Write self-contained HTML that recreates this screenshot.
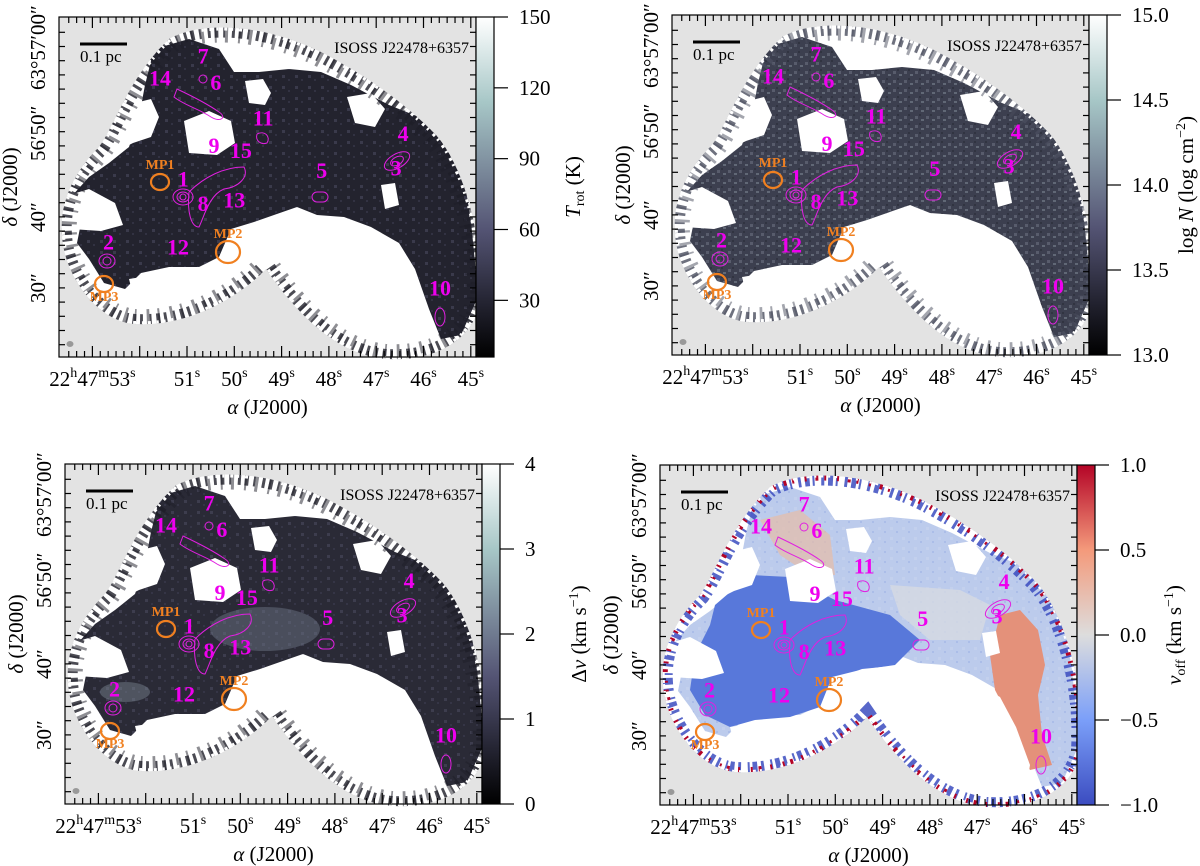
<!DOCTYPE html>
<html><head><meta charset="utf-8">
<style>
html,body{margin:0;padding:0;background:#fff;}
svg{display:block;font-family:"Liberation Serif","DejaVu Serif",serif;}
</style></head>
<body>
<svg id="fig" width="1200" height="866" viewBox="0 0 1200 866" xmlns="http://www.w3.org/2000/svg">
<defs>
<linearGradient id="bone" x1="0" y1="1" x2="0" y2="0">
<stop offset="0" stop-color="#000000"/><stop offset="0.375" stop-color="#545474"/><stop offset="0.75" stop-color="#a7c7c7"/><stop offset="1" stop-color="#ffffff"/>
</linearGradient>
<linearGradient id="coolwarm" x1="0" y1="1" x2="0" y2="0">
<stop offset="0" stop-color="#3b4cc0"/><stop offset="0.25" stop-color="#7b9ff9"/><stop offset="0.5" stop-color="#dddddd"/><stop offset="0.75" stop-color="#f49a7b"/><stop offset="1" stop-color="#b40426"/>
</linearGradient>
<pattern id="mottleDark" width="13" height="11" patternUnits="userSpaceOnUse">
<rect x="2" y="3" width="3" height="3" fill="#4a4a5e"/><rect x="8" y="7" width="2" height="2" fill="#3c3c50"/>
</pattern>
<pattern id="mottleN" width="11" height="9" patternUnits="userSpaceOnUse">
<rect x="1" y="2" width="3" height="3" fill="#6a7080"/><rect x="7" y="5" width="3" height="2" fill="#7a8490"/><rect x="5" y="0" width="2" height="2" fill="#2a2c38"/>
</pattern>
<pattern id="mottleV" width="12" height="10" patternUnits="userSpaceOnUse">
<rect x="2" y="2" width="3" height="3" fill="#c8d4ee"/><rect x="8" y="6" width="2" height="2" fill="#9fb4e6"/>
</pattern>
</defs>
</svg>
<script>
// ---- axis/tick data ----
const xTickSeconds = [53, 52, 51, 50, 49, 48, 47, 46, 45];
const xTickLabels = ["22h47m53s", "", "51s", "50s", "49s", "48s", "47s", "46s", "45s"];
const yTickLabels = ["63°57′00″", "56′50″", "40″", "30″"];
const yTickArcsec = [60, 50, 40, 30];
const cbTicksTrot = [30, 60, 90, 120, 150];
const cbTicksLogN = [13.0, 13.5, 14.0, 14.5, 15.0];
const cbTicksDv = [0, 1, 2, 3, 4];
const cbTicksVoff = [-1.0, -0.5, 0.0, 0.5, 1.0];
// sources: name, RA seconds, Dec arcsec offset (label positions)
const sourceNames = ["1","2","3","4","5","6","7","8","9","10","11","12","13","14","15"];
const sourceRA = [51.08, 52.66, 46.58, 46.43, 48.15, 50.39, 50.66, 50.66, 50.43, 45.65, 49.39, 51.19, 50.0, 51.57, 49.86];
const sourceDec = [45.3, 36.4, 46.8, 51.7, 46.5, 58.9, 62.6, 41.8, 50.0, 29.9, 53.9, 35.7, 42.3, 59.5, 49.3];

const W = 417, H = 340;
const panels = [
 {x:59, y:17, kind:"trot", grad:"bone", ticks:cbTicksTrot, vmin:6, vmax:150, fmt:v=>String(v)},
 {x:672, y:15, kind:"logn", grad:"bone", ticks:cbTicksLogN, vmin:13, vmax:15, fmt:v=>v.toFixed(1)},
 {x:65, y:464, kind:"dv", grad:"bone", ticks:cbTicksDv, vmin:0, vmax:4, fmt:v=>String(v)},
 {x:660, y:465, kind:"voff", grad:"coolwarm", ticks:cbTicksVoff, vmin:-1, vmax:1, fmt:v=>(v<0?"\u2212":"")+Math.abs(v).toFixed(1)}
];
function xs(sec){ return 33.4 + (53 - sec) * 47.3; }
function ys(arc){ return 65 + (60 - arc) * 7.1; }

const NS = "http://www.w3.org/2000/svg";
const fig = document.getElementById("fig");
function mk(tag, attrs, parent){
  const e = document.createElementNS(NS, tag);
  for (const k in attrs) e.setAttribute(k, attrs[k]);
  (parent||fig).appendChild(e);
  return e;
}
const outlineD = "M 3,218 C 0,180 20,150 40,130 C 55,110 70,60 110,22 C 140,5 200,5 262,35 C 300,55 340,80 377,118 C 405,150 425,220 421,285 C 415,320 380,345 327,342 C 280,338 240,300 207,252 C 180,280 130,310 76,307 C 40,305 5,260 3,218 Z";
const darkPts = "95,32 130,22 160,32 175,55 200,55 230,52 262,55 292,68 330,88 360,100 385,125 405,160 412,205 416,245 418,282 402,318 382,322 370,292 356,252 340,226 312,210 285,200 258,198 238,190 215,198 195,205 172,212 160,240 140,250 110,250 82,256 66,272 45,266 30,242 18,226 24,196 12,180 30,160 50,146 70,130 80,100 86,68";
const holes = [
 "50,112 68,88 92,82 100,100 92,120 74,126 58,134",
 "125,104 150,94 172,104 176,126 158,138 130,136",
 "186,64 204,62 212,76 206,88 190,86",
 "288,80 312,76 326,92 316,110 296,106",
 "4,180 30,172 56,186 64,208 42,214 12,212",
 "170,216 202,204 242,200 282,206 312,216 340,232 356,262 370,300 362,345 300,345 220,300 180,262",
 "322,168 336,166 340,188 326,192",
 "70,262 120,254 170,252 200,254 150,300 82,310"
];

panels.forEach((p, i) => {
  const g = mk("g", {transform:`translate(${p.x},${p.y})`});
  
  
  const clipId = "clip" + i;
  const cp = mk("clipPath", {id:clipId}, g);
  mk("path", {d:outlineD}, cp);

  const bg = mk("rect", {x:0, y:0, width:W, height:H, fill:"#e3e3e3"}, g);
  
  

  const m = mk("g", {"clip-path":`url(#${clipId})`}, g);
  
  
  mk("path", {d:outlineD, fill:"#ffffff"}, m);

  let darkFill, mottle;
  if (p.kind === "trot") { darkFill = "#23232e"; mottle = "mottleDark"; }
  else if (p.kind === "logn") { darkFill = "#3c3f4f"; mottle = "mottleN"; }
  else if (p.kind === "dv") { darkFill = "#2a2a36"; mottle = "mottleDark"; }
  else { darkFill = "#bccbec"; mottle = "mottleV"; }

  const dk = mk("polygon", {points:darkPts, fill:darkFill}, m);
  
  
  mk("polygon", {points:darkPts, fill:`url(#${mottle})`, opacity:"0.6"}, m);

  if (p.kind === "dv") {
    mk("ellipse", {cx:200, cy:165, rx:55, ry:22, fill:"#6a7282", opacity:"0.5"}, m);
    mk("ellipse", {cx:60, cy:228, rx:25, ry:10, fill:"#7d8894", opacity:"0.45"}, m);
  }
  if (p.kind === "voff") {
    const b = mk("polygon", {points:"55,140 90,110 130,112 175,135 230,150 260,175 235,200 200,205 172,212 160,242 130,252 95,255 70,262 45,250 30,225 35,190 50,160", fill:"#5878da"}, m);
    
    
    const r = mk("polygon", {points:"340,150 360,145 378,165 385,200 378,230 382,270 392,300 370,305 356,280 348,250 335,225 330,190", fill:"#e4917a"}, m);
    
    
    mk("polygon", {points:"100,55 140,45 170,70 175,110 150,110 120,90", fill:"#e7bca8", opacity:"0.7"}, m);
    mk("polygon", {points:"230,120 300,125 330,140 320,175 270,175 240,150", fill:"#d6d9e2", opacity:"0.8"}, m);
  }
  holes.forEach(h => mk("polygon", {points:h, fill:"#ffffff"}, m));

  if (p.kind === "voff") {
    mk("path", {d:outlineD, fill:"none", stroke:"#3b4cc0", "stroke-width":"20", "stroke-dasharray":"5 3 2 7 3 4", opacity:"0.85"}, m);
    mk("path", {d:outlineD, fill:"none", stroke:"#b40426", "stroke-width":"10", "stroke-dasharray":"2 9 3 6 2 11"}, m);
    mk("path", {d:outlineD, fill:"none", stroke:"#ffffff", "stroke-width":"4", "stroke-dasharray":"3 5 2 4"}, m);
  } else {
    mk("path", {d:outlineD, fill:"none", stroke:(p.kind==="logn"?"#4a4e5e":"#1e1e28"), "stroke-width":"20", "stroke-dasharray":"4 5 2 7 3 4", opacity:"0.8"}, m);
    mk("path", {d:outlineD, fill:"none", stroke:(p.kind==="logn"?"#4a4e5e":"#1e1e28"), "stroke-width":"30", "stroke-dasharray":"2 9 3 11", opacity:"0.5"}, m);
    mk("path", {d:outlineD, fill:"none", stroke:"#ffffff", "stroke-width":"6", "stroke-dasharray":"3 4 2 6"}, m);
  }

  const c = mk("g", {fill:"none", stroke:"#e020e0", "stroke-width":"1"}, g);
  
  
  [[124,180,10,8],[124,180,6,5],[124,180,3,3]].forEach(e=>mk("ellipse",{cx:e[0],cy:e[1],rx:e[2],ry:e[3]},c));
  mk("path", {d:"M130,175 C145,160 165,150 185,150 C190,160 180,170 165,172 C150,178 145,200 140,210 C132,210 128,195 130,175"}, c);
  [[48,244,8,7],[48,244,4,4]].forEach(e=>mk("ellipse",{cx:e[0],cy:e[1],rx:e[2],ry:e[3]},c));
  [[338,144,14,7],[338,144,7,4]].forEach(e=>mk("ellipse",{cx:e[0],cy:e[1],rx:e[2],ry:e[3],transform:`rotate(-30 ${e[0]} ${e[1]})`},c));
  mk("rect", {x:253, y:175, width:16, height:10, rx:5}, c);
  mk("path", {d:"M118,72 C135,80 150,88 160,95 C168,100 162,106 152,100 C140,92 125,88 115,80 Z"}, c);
  mk("ellipse", {cx:144, cy:62, rx:4, ry:4}, c);
  mk("path", {d:"M198,117 C206,113 212,120 208,126 C202,128 196,124 198,117"}, c);
  mk("ellipse", {cx:381, cy:300, rx:5, ry:9}, c);

  sourceNames.forEach((nm, k) => {
    const t = mk("text", {x:xs(sourceRA[k]), y:ys(sourceDec[k]), "text-anchor":"middle", "font-size":"22", "font-weight":"bold", fill:"#ee00ee"}, g);
    
    
    t.textContent = nm;
  });

  [["MP1",101,165,9,8,152],["MP2",169,235,12,11,221],["MP3",45,267,9,8,284]].forEach(mp=>{
    const e = mk("ellipse", {cx:mp[1], cy:mp[2], rx:mp[3], ry:mp[4], fill:"none", stroke:"#f08020", "stroke-width":"2.2"}, g);
    
    
    const t = mk("text", {x:mp[1], y:mp[5], "text-anchor":"middle", "font-size":"14", "font-weight":"bold", fill:"#f08020"}, g);
    
    
    t.textContent = mp[0];
  });

  const bm = mk("ellipse", {cx:11, cy:327, rx:3.5, ry:3, fill:"#999"}, g);
  
  

  const sb = mk("line", {x1:21, y1:27, x2:68, y2:27, stroke:"#000", "stroke-width":"3"}, g);
  
  
  const sbt = mk("text", {x:21, y:45, "font-size":"17"}, g);
  
  
  sbt.textContent = "0.1 pc";
  const tt = mk("text", {x:410, y:36, "text-anchor":"end", "font-size":"16"}, g);
  
  
  tt.textContent = "ISOSS J22478+6357";

  const tk = mk("g", {stroke:"#000", "stroke-width":"1.2"}, g);
  
  
  for (let s = 53.5; s >= 44.6; s -= 1/6) {
    const X = xs(s); if (X < 1 || X > W - 1) continue;
    const major = Math.abs(s - Math.round(s)) < 0.01;
    const L = major ? 11 : 6;
    mk("line", {x1:X, y1:H, x2:X, y2:H - L}, tk);
    mk("line", {x1:X, y1:0, x2:X, y2:L}, tk);
  }
  for (let a = 67; a >= 17; a -= 2) {
    const Y = ys(a); if (Y < 1 || Y > H - 1) continue;
    const L = (a % 10 === 0) ? 11 : 6;
    mk("line", {x1:0, y1:Y, x2:L, y2:Y}, tk);
    mk("line", {x1:W, y1:Y, x2:W - L, y2:Y}, tk);
  }
  const fr = mk("rect", {x:0, y:0, width:W, height:H, fill:"none", stroke:"#000", "stroke-width":"1.2"}, g);
  
  

  xTickSeconds.forEach((s, k) => {
    const lab = xTickLabels[k]; if (!lab) return;
    const t = mk("text", {x:xs(s), y:H + 29, "text-anchor":"middle", "font-size":"21"}, g);
    
    
    if (k === 0) {
      t.innerHTML = '22<tspan font-size="14" dy="-9">h</tspan><tspan dy="9">47</tspan><tspan font-size="14" dy="-9">m</tspan><tspan dy="9">53</tspan><tspan font-size="14" dy="-9">s</tspan>';
    } else {
      t.innerHTML = lab.slice(0, -1) + '<tspan font-size="14" dy="-9">s</tspan>';
    }
  });
  yTickArcsec.forEach((a, k) => {
    const Y = ys(a) + 8;
    const t = mk("text", {x:-14, y:Y, transform:`rotate(-90 -14 ${Y})`, "font-size":"21"}, g);
    
    
    t.textContent = yTickLabels[k];
  });
  const xl = mk("text", {x:W/2, y:H + 57, "text-anchor":"middle", "font-size":"21"}, g);
  
  
  xl.innerHTML = '<tspan font-style="italic">α</tspan> (J2000)';
  const yl = mk("text", {x:-42, y:H/2, transform:`rotate(-90 -42 ${H/2})`, "text-anchor":"middle", "font-size":"21"}, g);
  
  
  yl.innerHTML = '<tspan font-style="italic">δ</tspan> (J2000)';

  const cb = mk("g", {transform:`translate(${W},0)`}, g);
  
  
  mk("rect", {x:0, y:0, width:18, height:H, fill:`url(#${p.grad})`, stroke:"#000", "stroke-width":"1.2"}, cb);
  p.ticks.forEach(v => {
    const Y = H - (v - p.vmin) / (p.vmax - p.vmin) * H;
    mk("line", {x1:18, y1:Y, x2:32, y2:Y, stroke:"#000", "stroke-width":"1.2"}, cb);
    const t = mk("text", {x:43, y:Y + 7, "font-size":"21"}, cb);
    
    
    t.textContent = p.fmt(v);
  });
  const cl = mk("text", {x:104, y:H/2, transform:`rotate(-90 104 ${H/2})`, "text-anchor":"middle", "font-size":"21"}, cb);
  
  
  if (p.kind === "trot") cl.innerHTML = '<tspan font-style="italic">T</tspan><tspan font-size="14" dy="4">rot</tspan><tspan dy="-4"> (K)</tspan>';
  else if (p.kind === "logn") cl.innerHTML = 'log <tspan font-style="italic">N</tspan> (log cm<tspan font-size="14" dy="-8">−2</tspan><tspan dy="8">)</tspan>';
  else if (p.kind === "dv") cl.innerHTML = 'Δ<tspan font-style="italic">v</tspan> (km s<tspan font-size="14" dy="-8">−1</tspan><tspan dy="8">)</tspan>';
  else cl.innerHTML = '<tspan font-style="italic">v</tspan><tspan font-size="14" dy="4">off</tspan><tspan dy="-4"> (km s</tspan><tspan font-size="14" dy="-8">−1</tspan><tspan dy="8">)</tspan>';
});
</script>
</body></html>
